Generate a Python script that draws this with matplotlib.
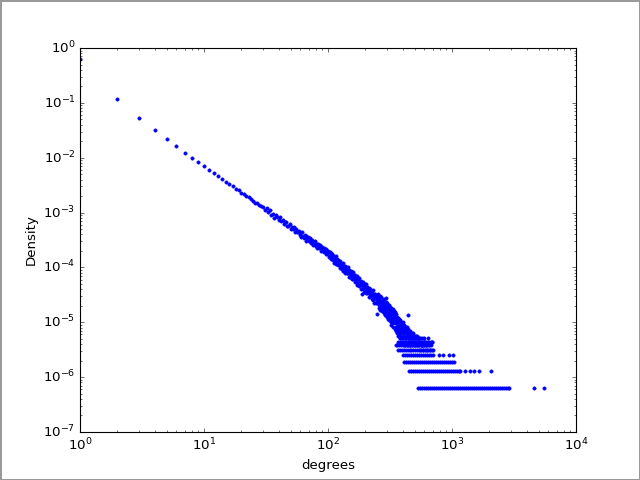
import numpy as np
import matplotlib.pyplot as plt

plt.style.use('classic')

# nombre total de noeuds (densite = compte / n_noeuds)
n_noeuds = 1577000

# degres 1..100 : un point par degre
degres_debut = np.arange(1, 101)
comptes_debut = [993500, 184500, 82500, 50500, 34500, 25400, 19550, 15770, 13000, 11000,
                 9410, 8300, 7430, 6370, 5610, 5190, 4790, 4310, 4020, 3650,
                 3420, 3130, 2970, 2740, 2610, 2400, 2310, 2140, 2070, 2017,
                 1731, 1891, 1618, 1750, 1398, 1482, 1252, 1414, 1293, 1145,
                 1291, 1094, 1153, 964, 1053, 1056, 906, 914, 983, 797,
                 874, 799, 861, 690, 789, 694, 710, 739, 619, 668,
                 575, 685, 589, 552, 611, 580, 486, 544, 568, 484,
                 483, 536, 439, 494, 461, 407, 460, 412, 470, 382,
                 415, 356, 419, 389, 352, 400, 317, 368, 345, 366,
                 319, 363, 299, 309, 333, 343, 277, 305, 282, 312]

# degres 100..250
degres_milieu = [101, 102, 103, 104, 105, 106, 107, 108, 109, 110,
                 111, 112, 113, 114, 115, 116, 117, 118, 119, 120,
                 121, 122, 123, 124, 125, 126, 127, 128, 129, 130,
                 131, 132, 133, 134, 135, 136, 137, 138, 139, 140,
                 141, 142, 143, 144, 145, 146, 147, 148, 149, 150,
                 151, 152, 153, 154, 155, 156, 157, 158, 159, 160,
                 161, 163, 165, 166, 167, 169, 171, 172, 173, 175,
                 177, 178, 179, 181, 183, 184, 185, 187, 189, 190,
                 191, 193, 195, 196, 197, 199, 201, 202, 203, 205,
                 207, 208, 209, 211, 213, 214, 215, 217, 219, 220,
                 221, 223, 225, 226, 227, 229, 231, 232, 233, 235,
                 237, 238, 239, 241, 243, 244, 245, 247, 249, 250]
comptes_milieu = [297, 244, 304, 253, 283, 220, 256, 280, 217, 230,
                  255, 192, 237, 205, 251, 208, 181, 222, 207, 175,
                  219, 181, 200, 156, 183, 205, 161, 181, 149, 185,
                  157, 190, 137, 161, 143, 166, 124, 156, 141, 163,
                  125, 142, 125, 158, 125, 140, 106, 140, 123, 128,
                  105, 138, 109, 124, 98, 128, 106, 113, 96, 129,
                  100, 112, 85, 113, 95, 101, 76, 108, 83, 98,
                  82, 103, 73, 86, 64, 90, 75, 52, 82, 65,
                  87, 67, 73, 56, 79, 64, 73, 55, 79, 62,
                  54, 69, 56, 64, 46, 67, 54, 59, 48, 65,
                  50, 57, 42, 59, 49, 61, 41, 50, 43, 52,
                  36, 49, 43, 52, 36, 44, 47, 22, 38, 47]

# nuage 250..700
degres_nuage = [252, 254, 256, 258, 260, 262, 264, 266, 268, 270,
                272, 274, 276, 278, 280, 282, 284, 286, 288, 290,
                292, 294, 296, 298, 300, 302, 304, 306, 308, 310,
                312, 314, 316, 318, 320, 322, 324, 326, 328, 330,
                332, 334, 336, 338, 340, 343, 346, 349, 352, 355,
                357, 358, 361, 364, 367, 370, 373, 376, 379, 382,
                385, 388, 391, 394, 397, 400, 403, 406, 409, 412,
                415, 418, 421, 424, 427, 430, 433, 436, 438, 440,
                443, 446, 449, 452, 456, 460, 464, 468, 472, 476,
                480, 485, 490, 495, 500, 506, 512, 518, 524, 530,
                537, 545, 553, 561, 570, 580, 590, 600, 612, 625,
                640, 655, 670, 684, 700,
                253, 257, 261, 265, 269, 273, 277, 281, 285, 289,
                293, 297, 301, 305, 309, 313, 317, 321, 325, 329,
                333, 337, 341, 345, 348, 351, 354, 359, 363, 366,
                369, 372, 375, 378, 381, 384, 387, 390, 393, 396,
                399, 402, 405, 408, 411, 414, 417, 420, 423, 426,
                429, 432, 435, 439, 442, 445, 448, 451, 455, 459,
                463, 467, 471, 475, 479, 484, 489, 494, 499, 505,
                511, 517, 523, 529, 536, 544, 552, 560, 569, 578,
                588, 598, 610, 622, 635, 650]
comptes_nuage = [44, 36, 40, 33, 41, 35, 30, 38, 32, 36,
                 28, 34, 30, 25, 33, 29, 36, 27, 31, 24,
                 30, 27, 43, 26, 30, 22, 28, 25, 20, 27,
                 23, 26, 19, 24, 22, 14, 25, 20, 17, 23,
                 19, 21, 16, 22, 18, 20, 15, 19, 17, 13,
                 6, 18, 15, 12, 16, 14, 11, 17, 13, 10,
                 14, 12, 9, 13, 11, 8, 12, 10, 14, 9,
                 11, 8, 12, 10, 7, 11, 9, 13, 21, 8,
                 10, 7, 11, 9, 8, 10, 7, 9, 8, 6,
                 10, 7, 9, 6, 8, 7, 9, 6, 8, 7,
                 6, 8, 5, 7, 6, 5, 7, 6, 5, 6,
                 5, 7, 5, 7, 5,
                 52, 29, 47, 26, 45, 25, 40, 23, 42, 21,
                 37, 20, 35, 18, 33, 17, 30, 16, 29, 15,
                 27, 13, 25, 12, 24, 11, 22, 10, 20, 9,
                 19, 9, 18, 8, 17, 8, 16, 7, 15, 8,
                 14, 7, 16, 6, 13, 8, 12, 6, 13, 7,
                 12, 6, 10, 8, 12, 6, 10, 7, 11, 6,
                 9, 8, 10, 7, 9, 8, 10, 7, 9, 6,
                 8, 7, 9, 6, 8, 7, 8, 6, 8, 7,
                 6, 8, 7, 6, 8, 6]

# degres ayant un compte de 1 a 7 (lignes horizontales)
rang7 = [368, 384, 399, 414, 428, 444, 458, 474, 492, 510, 528, 548, 568, 595, 615, 645, 675, 690]
rang6 = [352, 372, 387, 402, 418, 432, 448, 462, 478, 495, 515, 535, 558, 578, 600, 620, 650, 680]
rang5 = [366, 380, 395, 410, 425, 440, 455, 470, 488, 505, 520, 540, 560, 585, 610, 630, 660, 690]
rang4 = [403, 418, 433, 451, 468, 487, 504, 524, 542, 565, 584, 609, 630, 656, 679, 703,
         785, 846, 946, 1018]
rang3 = [410, 425, 443, 458, 477, 493, 514, 532, 554, 573, 597, 618, 643, 666, 693, 717,
         747, 773, 804, 833, 866, 897, 933, 967, 1005, 1040]
rang2 = [450, 466, 486, 502, 523, 541, 564, 583, 607, 628, 654, 677, 705, 729, 759, 786,
         818, 847, 881, 912, 949, 983, 1022, 1059, 1101, 1130, 1160,
         1270, 1400, 1500, 1650, 2060]
rang1 = [532, 551, 574, 594, 618, 640, 666, 689, 717, 743, 773, 800, 833, 862, 897, 929,
         966, 1001, 1041, 1079, 1122, 1162, 1208, 1252, 1302, 1349, 1402, 1454, 1511, 1566,
         1628, 1688, 1754, 1818, 1889, 1959, 2036, 2111, 2193, 2275, 2363, 2451, 2546, 2641,
         2743, 2845, 2880, 4600, 5500]
rangs = {1: rang1, 2: rang2, 3: rang3, 4: rang4, 5: rang5, 6: rang6, 7: rang7}

degres = list(degres_debut) + degres_milieu + degres_nuage
comptes = list(comptes_debut) + comptes_milieu + comptes_nuage
for k, liste in rangs.items():
    degres += liste
    comptes += [k] * len(liste)

degres = np.array(degres, dtype=float)
densite = np.array(comptes, dtype=float) / n_noeuds

fig = plt.figure(figsize=(8, 6), dpi=80)
ax = fig.add_subplot(111)
ax.plot(degres, densite, 'b.')
ax.set_xscale('log')
ax.set_yscale('log')
ax.set_xlim(1, 1e4)
ax.set_ylim(1e-7, 1)
ax.set_xlabel('degrees')
ax.set_ylabel('Density')

fig.patch.set_edgecolor('#999999')
fig.patch.set_linewidth(1)
fig.savefig('out.png', dpi=80, facecolor='white', edgecolor='#999999')
